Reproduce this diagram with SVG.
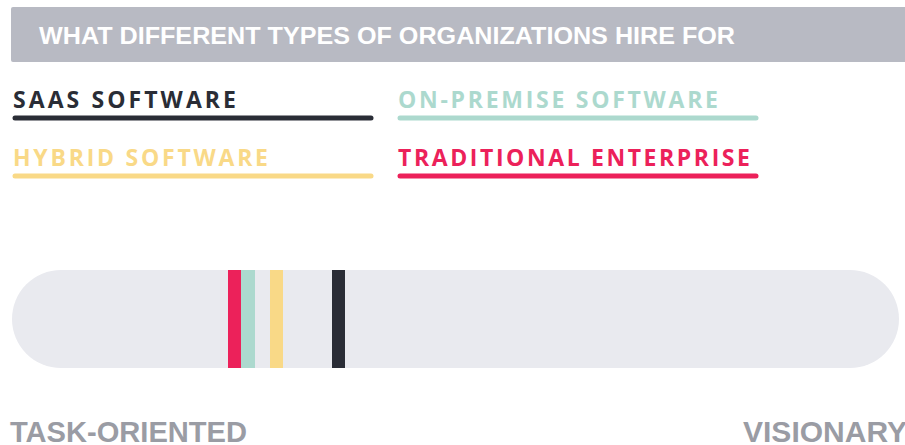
<svg xmlns="http://www.w3.org/2000/svg" width="905" height="445" viewBox="0 0 905 445">
<style>
.hdr{font-family:"Liberation Sans",Arial,sans-serif;font-weight:bold;font-size:24px;fill:#ffffff}
.leg{font-family:"Open Sans","Liberation Sans",Arial,sans-serif;font-weight:bold;font-size:23px}
.ax{font-family:"Liberation Sans",Arial,sans-serif;font-weight:bold;font-size:30px;fill:#9a9ca4}
.ul{stroke-width:5;stroke-linecap:round;fill:none}
</style>
<rect width="905" height="445" fill="#ffffff"/>
<g id="header">
<rect x="11" y="7" width="900" height="55" rx="2" fill="#b8bac3"/>
<text class="hdr" x="39" y="44" textLength="696" lengthAdjust="spacingAndGlyphs">WHAT DIFFERENT TYPES OF ORGANIZATIONS HIRE FOR</text>
</g>
<g id="legend-saas">
<text class="leg" x="13" y="108" fill="#2a2d36" textLength="223" lengthAdjust="spacing">SAAS SOFTWARE</text>
<line class="ul" x1="15" y1="118" x2="371" y2="118" stroke="#2a2d36"/>
</g>
<g id="legend-onprem">
<text class="leg" x="398" y="108" fill="#acd9ce" textLength="320" lengthAdjust="spacing">ON-PREMISE SOFTWARE</text>
<line class="ul" x1="400" y1="118" x2="756" y2="118" stroke="#acd9ce"/>
</g>
<g id="legend-hybrid">
<text class="leg" x="13" y="166" fill="#f9d987" textLength="255" lengthAdjust="spacing">HYBRID SOFTWARE</text>
<line class="ul" x1="15" y1="176" x2="371" y2="176" stroke="#f9d987"/>
</g>
<g id="legend-traditional">
<text class="leg" x="398" y="166" fill="#ec215a" textLength="352" lengthAdjust="spacing">TRADITIONAL ENTERPRISE</text>
<line class="ul" x1="400" y1="176" x2="756" y2="176" stroke="#ec215a"/>
</g>
<g id="scale">
<rect x="12" y="270" width="887" height="98" rx="49" fill="#e9eaef"/>
<rect x="228" y="270" width="13" height="98" fill="#ec215a"/>
<rect x="241" y="270" width="14" height="98" fill="#acd9ce"/>
<rect x="270" y="270" width="13" height="98" fill="#f9d987"/>
<rect x="332" y="270" width="13" height="98" fill="#2a2d36"/>
</g>
<g id="axis-labels">
<text class="ax" x="10" y="442" textLength="237" lengthAdjust="spacingAndGlyphs">TASK-ORIENTED</text>
<text class="ax" x="743" y="442" textLength="164" lengthAdjust="spacingAndGlyphs">VISIONARY</text>
</g>
</svg>
